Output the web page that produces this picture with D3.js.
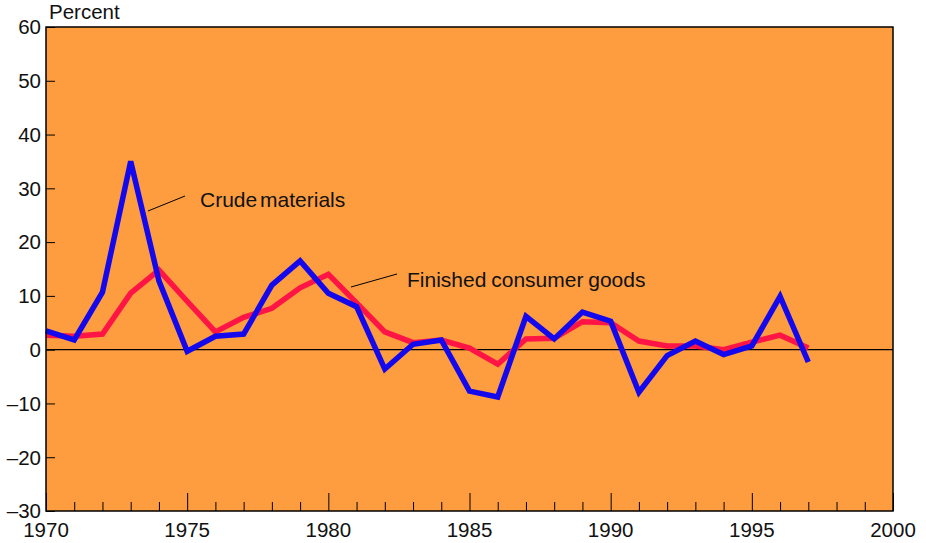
<!DOCTYPE html>
<html><head><meta charset="utf-8">
<script src="https://cdn.jsdelivr.net/npm/d3@7"></script>
<style>body{margin:0;background:#fff}text{font-family:"Liberation Sans",Arial,sans-serif;fill:#111}</style>
</head><body>
<svg id="c" width="926" height="543"></svg>
<script>
const years = d3.range(1970, 1998);
const crude = [3.5,1.8,10.7,35,12.8,-0.3,2.5,2.9,12,16.5,10.5,8,-3.6,1,1.8,-7.7,-8.8,6.2,2,7,5.3,-7.9,-1.1,1.6,-0.9,0.7,9.9,-2.3];
const finished = [2.7,2.5,2.9,10.5,14.8,9,3.3,6,7.7,11.5,14,8.7,3.3,1.3,1.8,0.3,-2.7,2,2.1,5.2,5,1.6,0.7,0.7,0,1.4,2.7,0.3];
const yTicks = [-30,-20,-10,0,10,20,30,40,50,60];
const xTicks = [1970,1975,1980,1985,1990,1995,2000];

const svg = d3.select("#c");
const L=46, R=893, T=27, B=511;
const x = d3.scaleLinear().domain([1970,2000]).range([L,R]);
const y = d3.scaleLinear().domain([-30,60]).range([B,T]);

svg.append("rect").attr("x",L).attr("y",T).attr("width",R-L).attr("height",B-T).attr("fill","#fd9d3f");

// y ticks
const yAx = svg.append("g").attr("transform",`translate(${L},0)`)
  .call(d3.axisRight(y).tickValues(yTicks).tickSize(9).tickFormat(""));
yAx.select(".domain").remove();
yAx.selectAll("line").attr("stroke","#000");
svg.append("g").selectAll("text").data(yTicks).join("text")
  .attr("x",41).attr("y",d=>y(d)).attr("dy","0.36em").attr("text-anchor","end")
  .attr("font-size",20.5).text(d=>d<0?"\u2013"+Math.abs(d):d);

// x ticks
const xAx = svg.append("g").attr("transform",`translate(0,${B})`)
  .call(d3.axisTop(x).tickValues(d3.range(1970,2001)).tickSize(9).tickFormat(""));
xAx.select(".domain").remove();
xAx.selectAll(".tick line").attr("stroke","#000").attr("y2",d=>d%5===0?-18:-9);
svg.append("g").selectAll("text").data(xTicks).join("text")
  .attr("x",d=>x(d)).attr("y",537).attr("text-anchor","middle")
  .attr("font-size",20.5).text(d=>d);

// zero line
svg.append("line").attr("x1",L).attr("x2",R).attr("y1",y(0)).attr("y2",y(0)).attr("stroke","#000").attr("stroke-width",1.2);

const line = d3.line().x((d,i)=>x(years[i])).y(d=>y(d));
svg.append("path").datum(finished).attr("d",line).attr("fill","none").attr("stroke","#ff1446").attr("stroke-width",5.5).attr("stroke-linejoin","miter");
svg.append("path").datum(crude).attr("d",line).attr("fill","none").attr("stroke","#1408ec").attr("stroke-width",5.5).attr("stroke-linejoin","miter");

// frame
svg.append("rect").attr("x",L).attr("y",T).attr("width",R-L).attr("height",B-T).attr("fill","none").attr("stroke","#000").attr("stroke-width",1.5);

// labels
svg.append("text").attr("x",49).attr("y",19).attr("font-size",20.5).text("Percent");
svg.append("line").attr("x1",148).attr("y1",211).attr("x2",185).attr("y2",196).attr("stroke","#000");
svg.append("text").attr("x",200).attr("y",207).attr("font-size",21).attr("word-spacing","-3").text("Crude materials");
svg.append("line").attr("x1",351).attr("y1",287).attr("x2",397).attr("y2",274).attr("stroke","#000");
svg.append("text").attr("x",407).attr("y",287).attr("font-size",21).attr("word-spacing","-1").text("Finished consumer goods");
</script>
</body></html>
